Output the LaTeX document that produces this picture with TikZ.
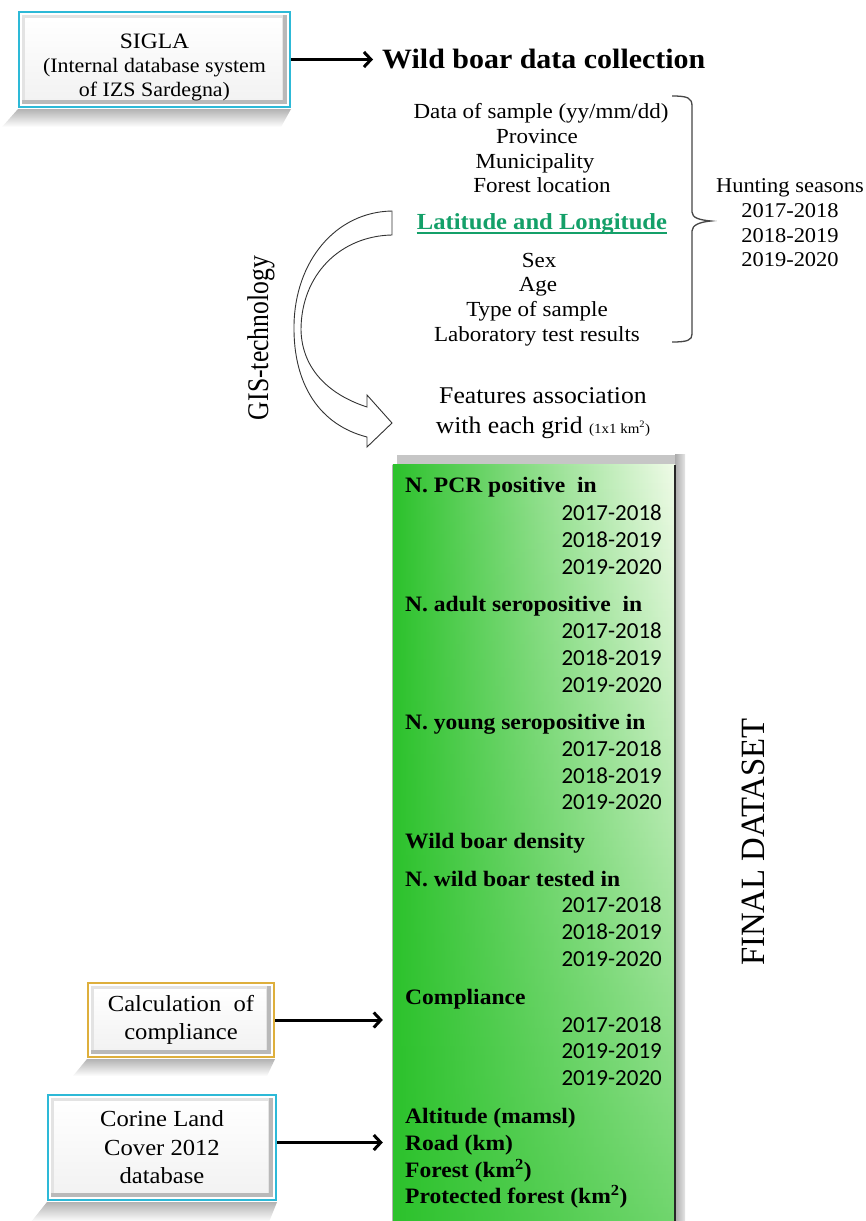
\documentclass[tikz,border=0pt]{standalone}
\usepackage{graphicx}
\usepackage{fontspec}
\setmainfont[FakeStretch=1.07]{Liberation Serif}
\newfontfamily\yearfont{Carlito}
\usetikzlibrary{arrows.meta,fadings,calc}
\definecolor{boxcyan}{RGB}{45,185,215}
\definecolor{boxgold}{RGB}{222,175,60}
\definecolor{boxgreen}{RGB}{44,194,44}
\definecolor{boxlight}{RGB}{240,251,232}
\definecolor{latgreen}{RGB}{20,160,105}
\definecolor{bracegray}{RGB}{70,70,70}
\tikzfading[name=fadeup, top color=transparent!100, bottom color=transparent!0]
\pgfdeclarelayer{bgwhite}
\pgfdeclarelayer{bg}
\pgfsetlayers{bgwhite,bg,main}
\newcommand\myfs[2]{\fontsize{#1}{#2}\selectfont}
\begin{document}
\begin{tikzpicture}[x=1pt,y=-1pt,
  bevelbox/.style={line width=2pt, fill=white, inner sep=0pt, align=center,
    path picture={
      \fill[gray!55] ([shift={(3pt,-3pt)}]path picture bounding box.north west) rectangle ([shift={(-3pt,3pt)}]path picture bounding box.south east);
      \fill[gray!22] ([shift={(3pt,-3pt)}]path picture bounding box.north west) rectangle ([shift={(-7pt,7pt)}]path picture bounding box.south east);
      \shade[top color=white, bottom color=gray!10] ([shift={(6pt,-6pt)}]path picture bounding box.north west) rectangle ([shift={(-8pt,8pt)}]path picture bounding box.south east);
    }},
  arr/.style={line width=3pt, -{Straight Barb[length=7pt,width=15pt]}},
  listtxt/.style={anchor=base, inner sep=0pt, font=\myfs{21.5}{24}},
  hdr/.style={anchor=base west, inner sep=0pt, font=\myfs{22}{24}\bfseries},
  yr/.style={anchor=base east, inner sep=0pt, font=\yearfont\myfs{23}{25}},
  shadowfill/.style={top color=gray!60, bottom color=white, draw=none},
]
\useasboundingbox (0,0) rectangle (866,1221);
\begin{pgfonlayer}{bgwhite}
\fill[white] (0,0) rectangle (866,1221);
\end{pgfonlayer}

% ---------- top: SIGLA ----------
\node[bevelbox, draw=boxcyan, minimum width=271pt, minimum height=95pt, font=\myfs{20.5}{24}] (sigla) at (154.5,59.5)
  {{\myfs{22}{24}\rule{0pt}{30pt}SIGLA}\\(Internal database system\\of IZS Sardegna)};
\node[anchor=base west, inner sep=0pt, font=\myfs{28}{30}\bfseries] (wild) at (382,68) {Wild boar data collection};
\draw[arr, shorten >=9pt] (sigla.east) -- (sigla.east -| wild.west);

% ---------- list ----------
\node[listtxt] (l1) at (541,118) {Data of sample (yy/mm/dd)};
\node[listtxt] (l2) at (537,143) {Province};
\node[listtxt] (l3) at (535,168) {Municipality};
\node[listtxt] (l4) at (542,192) {Forest location};
\node[listtxt, font=\myfs{23}{25}\bfseries, text=latgreen] (lat) at (542,229) {Latitude and Longitude};
\draw[latgreen, line width=1.3pt] ([yshift=-4pt]lat.base west) -- ([yshift=-4pt]lat.base east);
\node[listtxt] (l5) at (539,267) {Sex};
\node[listtxt] (l6) at (538,291) {Age};
\node[listtxt] (l7) at (537,316) {Type of sample};
\node[listtxt] (l8) at (537,341) {Laboratory test results};

% brace
\draw[bracegray, line width=1.3pt] (672,96) .. controls (688,96) and (692,98) .. (692,106) -- (692,212)
  .. controls (692,218) and (700,220) .. (711,221) .. controls (700,222) and (692,225) .. (692,231)
  -- (692,334) .. controls (692,340) and (688,342) .. (672,342);

\node[anchor=base, inner sep=0pt, font=\myfs{21}{24}] (hs) at (790,192) {Hunting seasons};
\node[anchor=base, inner sep=0pt, font=\myfs{21}{24}] (h1) at (790,217) {2017-2018};
\node[anchor=base, inner sep=0pt, font=\myfs{21}{24}] (h2) at (790,242) {2018-2019};
\node[anchor=base, inner sep=0pt, font=\myfs{21}{24}] (h3) at (790,266) {2019-2020};

% GIS curved arrow
\filldraw[fill=white, draw=gray!40!black, line width=0.9pt]
  (392,211) .. controls (335,212) and (295,262) .. (294,325)
  .. controls (293,385) and (320,425) .. (367,437)
  -- (367,447) -- (392,423) -- (367,395) -- (367,407)
  .. controls (330,395) and (302,370) .. (301,330)
  .. controls (301,275) and (340,236) .. (392,235) -- cycle;
\node[rotate=90, anchor=base, inner sep=0pt, font=\myfs{30}{30}] (gis) at (268,338) {\scalebox{0.8}[1]{GIS-technology}};

\node[anchor=base, inner sep=0pt, font=\myfs{24}{30}] (feat1) at (543,403) {Features association};
\node[anchor=base, inner sep=0pt, font=\myfs{24}{30}] (feat2) at (543,433) {with each grid {\myfs{14}{14}(1x1 km\textsuperscript{2})}};

% ---------- green final dataset box ----------
\node[minimum width=282pt, minimum height=756pt, inner sep=0pt] (final) at (534,843) {};
\fill[gray!45] ($(final.north west)+(4,-10)$) rectangle ($(final.south east)+(10,0)$);
\shade[left color=gray!65, right color=gray!20] ($(final.north east)+(0,-10)$) rectangle ($(final.south east)+(10,0)$);
\shade[left color=boxgreen, middle color=boxgreen!60!boxlight, right color=boxlight] (final.north west) rectangle (final.south east);
\fill[boxgreen, path fading=fadeup, fill opacity=0.65] (final.north west) rectangle (final.south east);
\draw[gray!30!black, line width=1.5pt] (final.north east) -- (final.south east);
\draw[gray!60, line width=0.8pt] (final.north west) -- (final.south west);

\node[hdr] (a0) at (405,492) {N. PCR positive\ \ in};
\node[yr] (a1) at (662,520) {2017-2018};
\node[yr] (a2) at (662,547) {2018-2019};
\node[yr] (a3) at (662,574) {2019-2020};
\node[hdr] (b0) at (405,611) {N. adult seropositive\ \ in};
\node[yr] (b1) at (662,638) {2017-2018};
\node[yr] (b2) at (662,665) {2018-2019};
\node[yr] (b3) at (662,692) {2019-2020};
\node[hdr] (c0) at (405,729) {N. young seropositive in};
\node[yr] (c1) at (662,756) {2017-2018};
\node[yr] (c2) at (662,783) {2018-2019};
\node[yr] (c3) at (662,809) {2019-2020};
\node[hdr] (d0) at (405,848) {Wild boar density};
\node[hdr] (e0) at (405,886) {N. wild boar tested in};
\node[yr] (e1) at (662,912) {2017-2018};
\node[yr] (e2) at (662,939) {2018-2019};
\node[yr] (e3) at (662,966) {2019-2020};
\node[hdr] (f0) at (405,1004) {Compliance};
\node[yr] (f1) at (662,1032) {2017-2018};
\node[yr] (f2) at (662,1058) {2019-2019};
\node[yr] (f3) at (662,1085) {2019-2020};
\node[hdr] (g0) at (405,1123) {Altitude (mamsl)};
\node[hdr] (g1) at (405,1150) {Road (km)};
\node[hdr] (g2) at (405,1177) {Forest (km\textsuperscript{2})};
\node[hdr] (g3) at (405,1203) {Protected forest (km\textsuperscript{2})};

\node[rotate=90, anchor=base, inner sep=0pt, font=\myfs{34}{34}] (fd) at (764,842) {\scalebox{0.9}[1]{FINAL DATASET}};

% ---------- bottom-left boxes ----------
\node[bevelbox, draw=boxgold, minimum width=186pt, minimum height=74pt, font=\myfs{23}{28}] (comp) at (181,1020)
  {Calculation\ \ of\\compliance};
\node[bevelbox, draw=boxcyan, minimum width=228pt, minimum height=105pt, font=\myfs{23}{28.5}] (corine) at (162,1147.5)
  {Corine Land\\Cover 2012\\database};
\draw[arr, shorten >=10pt] (comp.east) -- (comp.east -| final.west);
\draw[arr, shorten >=10pt] ([yshift=5pt]corine.east) -- ([yshift=5pt]corine.east -| final.west);

% shadows
\begin{pgfonlayer}{bg}
\shade[shadowfill] ($(sigla.south west)+(0,1)$) -- ($(sigla.south east)+(0,1)$) -- ($(sigla.south east)+(-10,19)$) -- ($(sigla.south west)+(-16,19)$) -- cycle;
\shade[shadowfill] ($(comp.south west)+(0,1)$) -- ($(comp.south east)+(0,1)$) -- ($(comp.south east)+(-8,18)$) -- ($(comp.south west)+(-14,18)$) -- cycle;
\shade[shadowfill] ($(corine.south west)+(0,1)$) -- ($(corine.south east)+(0,1)$) -- ($(corine.south east)+(-8,21)$) -- ($(corine.south west)+(-16,21)$) -- cycle;
\end{pgfonlayer}
\end{tikzpicture}
\end{document}
